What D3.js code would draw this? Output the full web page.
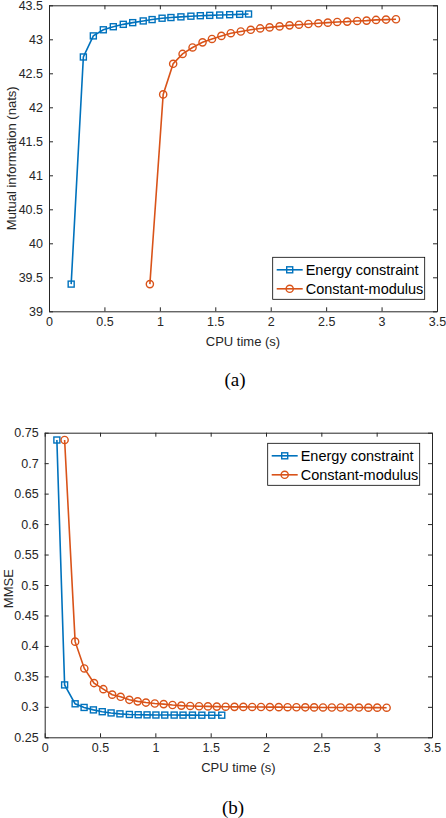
<!DOCTYPE html>
<html>
<head>
<meta charset="utf-8">
<script src="https://cdn.jsdelivr.net/npm/d3@7"></script>
<style>
  body { margin: 0; background: #fff; }
  svg { display: block; font-family: "Liberation Sans", Arial, Helvetica, sans-serif; }
</style>
</head>
<body>
<svg id="fig" width="446" height="818"></svg>
<script>
'use strict'

const seriesNames = ['Energy constraint', 'Constant-modulus']
const xTicks = [0, 0.5, 1, 1.5, 2, 2.5, 3, 3.5]

// (a) mutual information vs CPU time
const yTicksA = [39, 39.5, 40, 40.5, 41, 41.5, 42, 42.5, 43, 43.5]
const energyA_t = [0.20, 0.31, 0.40, 0.49, 0.58, 0.67, 0.755, 0.85, 0.93, 1.02, 1.10, 1.19, 1.28, 1.365, 1.45, 1.54, 1.63, 1.72, 1.80]
const energyA_mi = [39.40, 42.74, 43.05, 43.14, 43.185, 43.22, 43.245, 43.27, 43.29, 43.31, 43.32, 43.33, 43.34, 43.347, 43.352, 43.357, 43.362, 43.367, 43.372]
const modulusA_t = [0.91, 1.03, 1.12, 1.205, 1.295, 1.385, 1.47, 1.555, 1.64, 1.73, 1.82, 1.905, 1.99, 2.08, 2.17, 2.255, 2.34, 2.43, 2.515, 2.60, 2.69, 2.78, 2.865, 2.95, 3.04, 3.13]
const modulusA_mi = [39.40, 42.19, 42.64, 42.785, 42.88, 42.955, 43.005, 43.05, 43.09, 43.115, 43.14, 43.16, 43.175, 43.19, 43.205, 43.215, 43.225, 43.235, 43.245, 43.255, 43.26, 43.27, 43.275, 43.285, 43.29, 43.295]

// (b) MMSE vs CPU time
const yTicksB = [0.25, 0.3, 0.35, 0.4, 0.45, 0.5, 0.55, 0.6, 0.65, 0.7, 0.75]
const energyB_t = [0.11, 0.18, 0.275, 0.356, 0.44, 0.52, 0.60, 0.68, 0.765, 0.845, 0.925, 1.005, 1.085, 1.17, 1.25, 1.335, 1.42, 1.51, 1.60]
const energyB_mse = [0.738, 0.336, 0.305, 0.299, 0.295, 0.292, 0.290, 0.2885, 0.2875, 0.287, 0.2868, 0.2866, 0.2865, 0.2865, 0.2864, 0.2864, 0.2863, 0.2863, 0.2863]
const modulusB_t = [0.18, 0.275, 0.358, 0.446, 0.53, 0.61, 0.686, 0.765, 0.84, 0.915, 0.995, 1.075, 1.155, 1.235, 1.315, 1.395, 1.475, 1.555, 1.635, 1.715, 1.795, 1.875, 1.955, 2.035, 2.115, 2.195, 2.275, 2.355, 2.435, 2.515, 2.595, 2.675, 2.755, 2.84, 2.925, 3.005, 3.09]
const modulusB_mse = [0.738, 0.407, 0.363, 0.339, 0.329, 0.320, 0.3165, 0.3115, 0.309, 0.307, 0.3055, 0.3045, 0.303, 0.302, 0.3015, 0.301, 0.3007, 0.3004, 0.3002, 0.300, 0.2999, 0.2998, 0.2997, 0.2996, 0.2995, 0.2994, 0.2993, 0.2992, 0.2991, 0.299, 0.2989, 0.2989, 0.2988, 0.2988, 0.2987, 0.2987, 0.2986]

const blue = '#0072BD', orange = '#D95319', axisCol = '#262626'
const svg = d3.select('#fig')

const zip = (xs, ys) => xs.map((x, i) => ({x: x, y: ys[i]}))

function drawPanel(p) {
  const x = d3.scaleLinear().domain([0, 3.5]).range([0, p.w])
  const y = d3.scaleLinear().domain(p.ydom).range([p.h, 0])
  const g = svg.append('g').attr('transform', `translate(${p.left},${p.top})`)
  const fmt = d => String(d)
  const tl = 4

  // box + ticks on all four sides, pointing inward (matlab style)
  const axes = [
    [d3.axisBottom(x).tickValues(xTicks).tickFormat(fmt).tickSizeInner(-tl), `translate(0,${p.h})`],
    [d3.axisTop(x).tickValues(xTicks).tickFormat('').tickSizeInner(-tl), null],
    [d3.axisLeft(y).tickValues(p.yticks).tickFormat(fmt).tickSizeInner(-tl), null],
    [d3.axisRight(y).tickValues(p.yticks).tickFormat('').tickSizeInner(-tl), `translate(${p.w},0)`]
  ]
  axes.forEach(([ax, tr]) => {
    const a = g.append('g').call(ax.tickSizeOuter(0).tickPadding(6))
    if (tr) a.attr('transform', tr)
    a.select('.domain').attr('stroke', axisCol).attr('stroke-width', 1)
    a.selectAll('.tick line').attr('stroke', axisCol)
    a.selectAll('.tick text').attr('fill', axisCol).style('font-size', '12.5px')
      .style('font-family', '"Liberation Sans", Arial, sans-serif')
  })

  const line = d3.line().x(d => x(d.x)).y(d => y(d.y))
  const s1 = zip(p.e_t, p.e_v), s2 = zip(p.m_t, p.m_v)

  g.append('path').datum(s1).attr('d', line).attr('fill', 'none')
    .attr('stroke', blue).attr('stroke-width', 1.6)
  g.append('path').datum(s2).attr('d', line).attr('fill', 'none')
    .attr('stroke', orange).attr('stroke-width', 1.6)

  g.selectAll('.sq').data(s1).join('rect').attr('class', 'sq')
    .attr('x', d => x(d.x) - 3).attr('y', d => y(d.y) - 3)
    .attr('width', 6).attr('height', 6)
    .attr('fill', 'none').attr('stroke', blue).attr('stroke-width', 1.4)
  g.selectAll('.ci').data(s2).join('circle').attr('class', 'ci')
    .attr('cx', d => x(d.x)).attr('cy', d => y(d.y)).attr('r', 3.6)
    .attr('fill', 'none').attr('stroke', orange).attr('stroke-width', 1.4)

  // labels
  g.append('text').attr('x', p.w / 2).attr('y', p.h + 35)
    .attr('text-anchor', 'middle').attr('fill', axisCol).style('font-size', '13px')
    .text('CPU time (s)')
  g.append('text')
    .attr('transform', `translate(${p.ylabX},${p.ylabY}) rotate(-90)`)
    .attr('text-anchor', 'middle').attr('fill', axisCol).style('font-size', '13px')
    .text(p.ylabel)

  // legend
  const L = g.append('g').attr('transform', `translate(${p.legX},${p.legY})`)
  L.append('rect').attr('width', 152).attr('height', 42)
    .attr('fill', '#fff').attr('stroke', '#000').attr('stroke-width', 0.8)
  seriesNames.forEach((name, i) => {
    const cy = 12.5 + i * 19
    const col = i === 0 ? blue : orange
    L.append('line').attr('x1', 4).attr('x2', 30).attr('y1', cy).attr('y2', cy)
      .attr('stroke', col).attr('stroke-width', 1.6)
    if (i === 0) {
      L.append('rect').attr('x', 14).attr('y', cy - 3).attr('width', 6).attr('height', 6)
        .attr('fill', 'none').attr('stroke', col).attr('stroke-width', 1.4)
    } else {
      L.append('circle').attr('cx', 17).attr('cy', cy).attr('r', 3.6)
        .attr('fill', 'none').attr('stroke', col).attr('stroke-width', 1.4)
    }
    L.append('text').attr('x', 33).attr('y', cy + 5).attr('fill', '#000')
      .style('font-size', '14.5px').text(name)
  })

  // sub caption
  svg.append('text').attr('x', p.capX).attr('y', p.capY)
    .attr('text-anchor', 'middle').attr('fill', '#000')
    .style('font-family', '"Liberation Serif", "Times New Roman", serif')
    .style('font-size', '19px').text(p.caption)
}

drawPanel({
  left: 49, top: 5.3, w: 388, h: 306, ydom: [39, 43.5], yticks: yTicksA,
  e_t: energyA_t, e_v: energyA_mi, m_t: modulusA_t, m_v: modulusA_mi,
  ylabel: 'Mutual information (nats)', ylabX: -33, ylabY: 153,
  legX: 223.7, legY: 252, caption: '(a)', capX: 235, capY: 386
})

drawPanel({
  left: 44.7, top: 432.7, w: 387.3, h: 304.6, ydom: [0.25, 0.75], yticks: yTicksB,
  e_t: energyB_t, e_v: energyB_mse, m_t: modulusB_t, m_v: modulusB_mse,
  ylabel: 'MMSE', ylabX: -32, ylabY: 156,
  legX: 223, legY: 10.6, caption: '(b)', capX: 233, capY: 814
})
</script>
</body>
</html>
